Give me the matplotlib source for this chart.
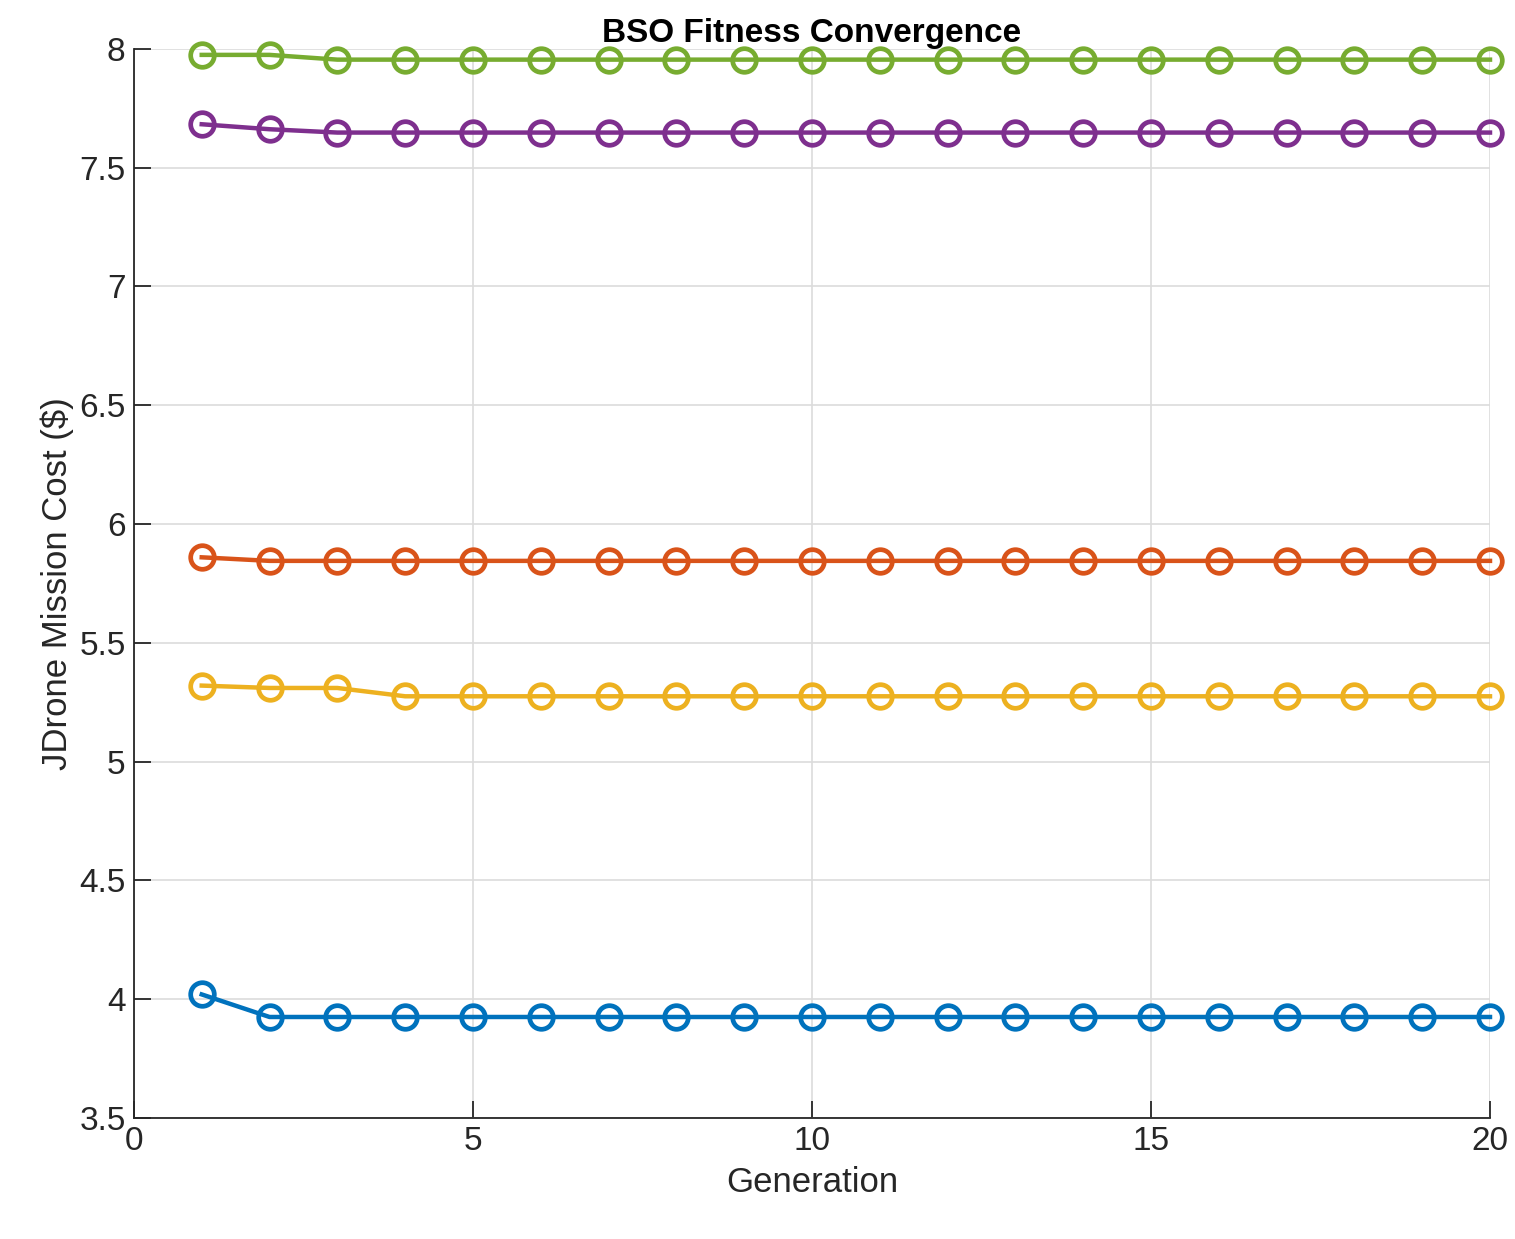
import numpy as np
import matplotlib.pyplot as plt

plt.rcParams["font.family"] = ["Liberation Sans", "DejaVu Sans"]

generations = np.arange(1, 21)
cost_blue = [4.02] + [3.925] * 19
cost_orange = [5.86] + [5.845] * 19
cost_yellow = [5.32, 5.31, 5.31] + [5.275] * 17
cost_purple = [7.683, 7.662] + [7.648] * 18
cost_green = [7.975, 7.975] + [7.955] * 18

series = [
    (cost_blue, "#0072BD"),
    (cost_orange, "#D95319"),
    (cost_yellow, "#EDB120"),
    (cost_purple, "#7E2F8E"),
    (cost_green, "#77AC30"),
]

fig = plt.figure(figsize=(15.15, 12.39), dpi=100)
ax = fig.add_axes([0.0884, 0.0977, 0.8951, 0.8628])

for values, color in series:
    ax.plot(generations, values, color=color, linewidth=3.2, marker="o",
            markersize=17, markerfacecolor="none", markeredgewidth=3.4,
            clip_on=False)

ax.set_xlim(0, 20)
ax.set_ylim(3.5, 8)
ax.set_xticks([0, 5, 10, 15, 20])
ax.set_yticks(np.arange(3.5, 8.01, 0.5))
ax.set_yticklabels(["3.5", "4", "4.5", "5", "5.5", "6", "6.5", "7", "7.5", "8"])
ax.grid(True, color="#dcdcdc", linewidth=1.2)
ax.set_axisbelow(True)
for side in ["top", "right"]:
    ax.spines[side].set_visible(False)
for side in ["bottom", "left"]:
    ax.spines[side].set_color("#262626")
    ax.spines[side].set_linewidth(1.3)
ax.tick_params(direction="in", length=12, width=1.3, labelsize=24,
               colors="#262626", pad=6)

ax.set_xlabel("Generation", fontsize=25, color="#262626", labelpad=6)
ax.set_ylabel("JDrone Mission Cost ($)", fontsize=25, color="#262626", labelpad=4)
ax.set_title("BSO Fitness Convergence", fontsize=24, fontweight="bold", pad=2)

fig.savefig("out.png", facecolor="white")
